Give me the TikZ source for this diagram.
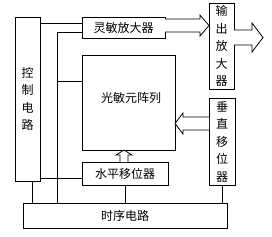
\documentclass[tikz,border=0pt]{standalone}
\usepackage{fontspec}
\newfontfamily\cjk{Noto Sans CJK SC}
\usetikzlibrary{calc}
\begin{document}
\begin{tikzpicture}[x=1pt,y=-1pt,line width=0.8pt,
  blk/.style={draw,anchor=north west,inner sep=0pt,outer sep=0pt,align=center,
    font=\cjk\fontsize{12}{17.5}\selectfont},
  txt/.style={inner sep=0pt,font=\cjk\fontsize{12}{17.5}\selectfont},
  hollow/.style={draw,fill=white,line join=miter}]
\useasboundingbox[fill=white] (0,0) rectangle (272,236);
% blocks
\node[blk,minimum width=25,minimum height=164] (ctrl) at (15,17) {控\\制\\电\\路};
\node[blk,minimum width=83,minimum height=21] (amp) at (82,17) {灵敏放大器};
\node[blk,minimum width=25,minimum height=86] (out) at (209,3) {输\\出\\放\\大\\器};
\node[blk,minimum width=93,minimum height=95] (arr) at (82,55) {};
\node[txt] (arrtxt) at (131,98) {光敏元阵列};
\node[blk,minimum width=26,minimum height=87] (vs) at (209,98) {垂\\直\\移\\位\\器};
\node[blk,minimum width=86,minimum height=23] (hs) at (82,162) {水平移位器};
\node[blk,minimum width=204,minimum height=25] (tim) at (23,203) {时序电路};
% plain connectors
\coordinate (c1) at ($(ctrl.north east)+(0,6)$);
\draw (c1) -- (c1 -| amp.west);
\coordinate (j1) at (57,32);
\draw (j1 -| amp.west) -- (j1) -- (j1 |- tim.north);
\coordinate (j2) at (57,81);
\draw (j2) -- (j2 -| arr.west);
\coordinate (c2) at ($(ctrl.south east)+(0,-3)$);
\draw (c2) -- (c2 -| hs.west);
\coordinate (c3) at ($(ctrl.south)+(4.5,0)$);
\draw (c3) -- (c3 |- tim.north);
\draw (hs.south) -- (hs.south |- tim.north);
\draw (vs.south) -- (vs.south |- tim.north);
% hollow arrows
\coordinate (a1) at (amp.east |- 0,25.5);
\draw[hollow] ($(a1)+(0,-6.5)$) -- ($(a1 -| out.west)+(-9,-6.5)$) -- ($(a1 -| out.west)+(-9,-10.5)$)
  -- (a1 -| out.west) -- ($(a1 -| out.west)+(-9,10.5)$) -- ($(a1 -| out.west)+(-9,6.5)$)
  -- ($(a1)+(0,6.5)$);
\coordinate (a2) at (out.east |- 0,37.5);
\coordinate (t2) at (263,37.5);
\draw[hollow] ($(a2)+(0,-7.5)$) -- ($(t2)+(-11,-7.5)$) -- ($(t2)+(-11,-14.5)$)
  -- (t2) -- ($(t2)+(-11,14.5)$) -- ($(t2)+(-11,7.5)$) -- ($(a2)+(0,7.5)$);
\coordinate (a3) at (vs.west |- 0,123.5);
\draw[hollow] ($(a3)+(0,-6.5)$) -- ($(a3 -| arr.east)+(8,-6.5)$) -- ($(a3 -| arr.east)+(8,-10.5)$)
  -- (a3 -| arr.east) -- ($(a3 -| arr.east)+(8,10.5)$) -- ($(a3 -| arr.east)+(8,6.5)$)
  -- ($(a3)+(0,6.5)$);
\coordinate (a4) at (hs.north -| 124,0);
\draw[hollow] ($(a4)+(-4,0)$) -- ($(a4 |- arr.south)+(-4,5)$) -- ($(a4 |- arr.south)+(-8,5)$)
  -- (a4 |- arr.south) -- ($(a4 |- arr.south)+(8,5)$) -- ($(a4 |- arr.south)+(4,5)$)
  -- ($(a4)+(4,0)$);
\end{tikzpicture}
\end{document}
